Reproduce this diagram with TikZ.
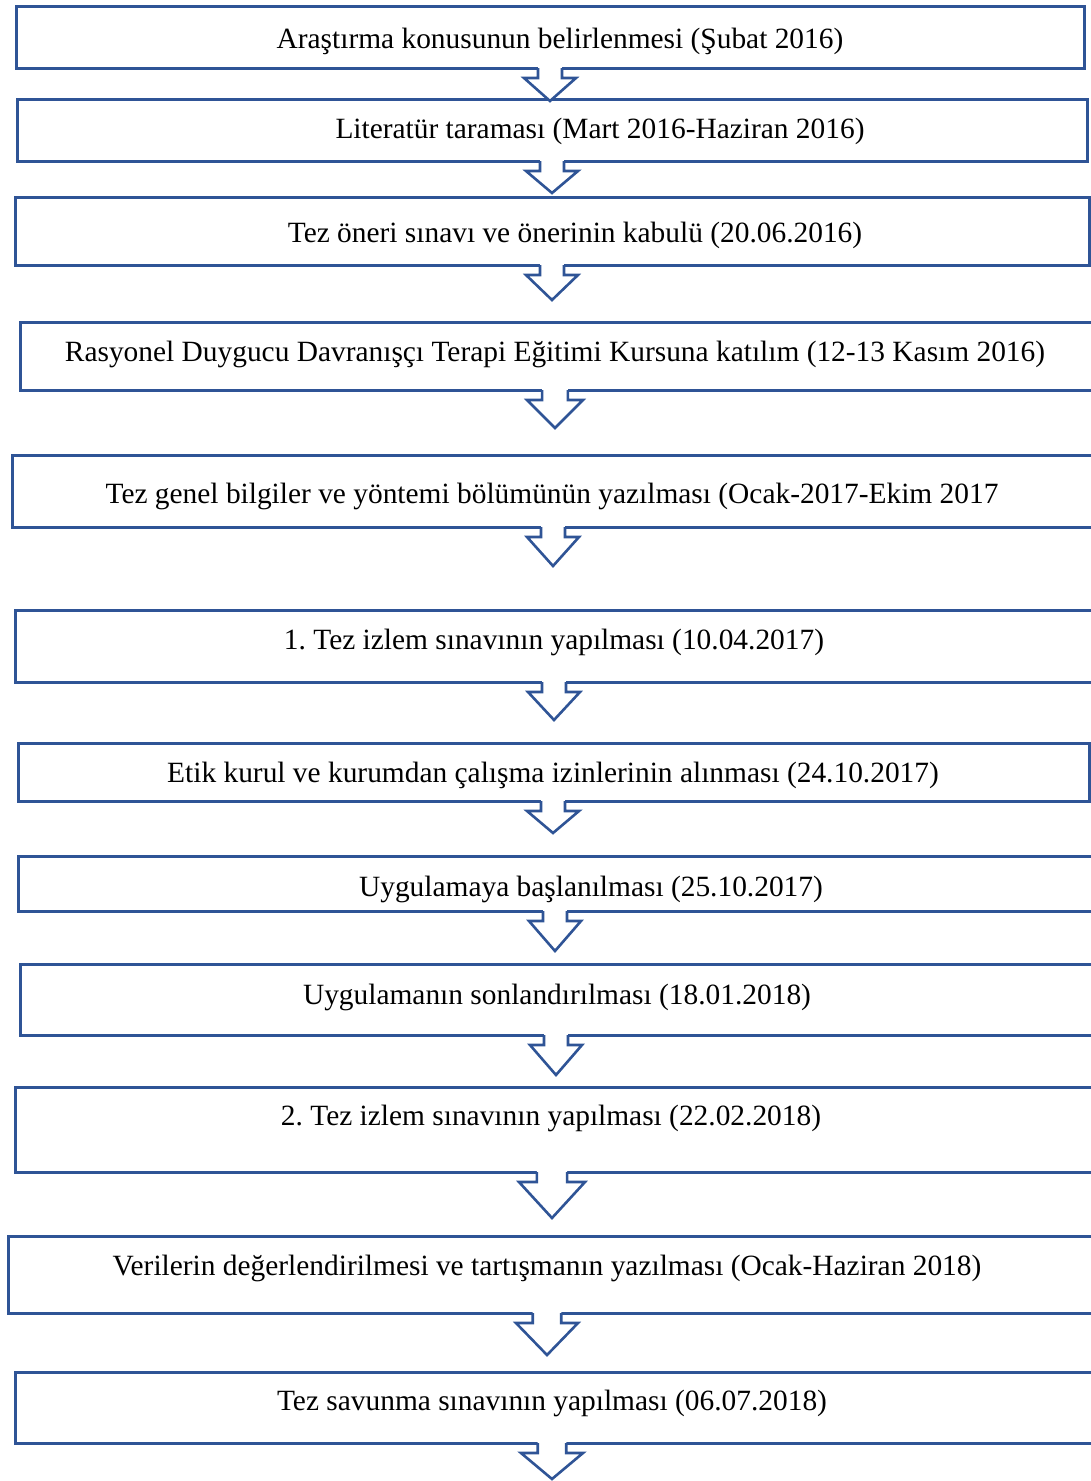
\documentclass[tikz,border=0pt]{standalone}
\usepackage{fontspec}
\setmainfont{Liberation Serif}
\usetikzlibrary{fit}
\definecolor{boxblue}{RGB}{47,84,150}
\tikzset{
  stagebox/.style={draw=boxblue, line width=3pt, inner sep=0pt, outer sep=0pt},
  stagetext/.style={anchor=base, inner sep=0pt, font=\fontsize{29.4}{33}\selectfont},
  blockarrow/.style={draw=boxblue, line width=2.6pt, line join=miter, fill=none},
}
% block arrow hanging below box #2 with its tip at coordinate #3;
% #1 = half width of the head (the stem is about half as wide)
\newcommand{\blockarrowdown}[3][26]{%
  \pgfmathsetmacro{\stemhw}{#1*0.46}%
  \fill[white] ([xshift=-\stemhw pt,yshift=2pt]#3 |- #2.south) -- ([xshift=-\stemhw pt,yshift=-10pt]#3 |- #2.south)
    -- ([xshift=-#1pt,yshift=-10pt]#3 |- #2.south) -- (#3)
    -- ([xshift=#1pt,yshift=-10pt]#3 |- #2.south) -- ([xshift=\stemhw pt,yshift=-10pt]#3 |- #2.south)
    -- ([xshift=\stemhw pt,yshift=2pt]#3 |- #2.south) -- cycle;
  \draw[blockarrow] ([xshift=-\stemhw pt]#3 |- #2.south) -- ([xshift=-\stemhw pt,yshift=-10pt]#3 |- #2.south)
    -- ([xshift=-#1pt,yshift=-10pt]#3 |- #2.south) -- (#3)
    -- ([xshift=#1pt,yshift=-10pt]#3 |- #2.south) -- ([xshift=\stemhw pt,yshift=-10pt]#3 |- #2.south)
    -- ([xshift=\stemhw pt]#3 |- #2.south);
}
\begin{document}
\begin{tikzpicture}[x=1pt, y=-1pt]
\useasboundingbox (0,0) rectangle (1091,1481);
\clip (0,0) rectangle (1091,1481);

% stage boxes
\node[stagebox, fit={(16,6) (1084,68)}] (b1) {};
\node[stagebox, fit={(17,99) (1087,161)}] (b2) {};
\node[stagebox, fit={(15,197) (1089,265)}] (b3) {};
\node[stagebox, fit={(20,322) (1097,390)}] (b4) {};
\node[stagebox, fit={(12,455) (1097,527)}] (b5) {};
\node[stagebox, fit={(15,610) (1097,682)}] (b6) {};
\node[stagebox, fit={(18,743) (1089,801)}] (b7) {};
\node[stagebox, fit={(18,856) (1097,911)}] (b8) {};
\node[stagebox, fit={(20,964) (1097,1035)}] (b9) {};
\node[stagebox, fit={(15,1087) (1097,1172)}] (b10) {};
\node[stagebox, fit={(8,1236) (1097,1313)}] (b11) {};
\node[stagebox, fit={(15,1372) (1097,1443)}] (b12) {};

% stage labels
\node[stagetext] (t1) at (560,48) {Araştırma konusunun belirlenmesi (Şubat 2016)};
\node[stagetext] (t2) at (600,138) {Literatür taraması (Mart 2016-Haziran 2016)};
\node[stagetext] (t3) at (575,242) {Tez öneri sınavı ve önerinin kabulü (20.06.2016)};
\node[stagetext] (t4) at (555,361) {Rasyonel Duygucu Davranışçı Terapi Eğitimi Kursuna katılım (12-13 Kasım 2016)};
\node[stagetext] (t5) at (552,503) {Tez genel bilgiler ve yöntemi bölümünün yazılması (Ocak-2017-Ekim 2017};
\node[stagetext] (t6) at (554,649) {1.\ Tez izlem sınavının yapılması (10.04.2017)};
\node[stagetext] (t7) at (553,782) {Etik kurul ve kurumdan çalışma izinlerinin alınması (24.10.2017)};
\node[stagetext] (t8) at (591,896) {Uygulamaya başlanılması (25.10.2017)};
\node[stagetext] (t9) at (557,1004) {Uygulamanın sonlandırılması (18.01.2018)};
\node[stagetext] (t10) at (551,1125) {2.\ Tez izlem sınavının yapılması (22.02.2018)};
\node[stagetext] (t11) at (547,1275) {Verilerin değerlendirilmesi ve tartışmanın yazılması (Ocak-Haziran 2018)};
\node[stagetext] (t12) at (552,1410) {Tez savunma sınavının yapılması (06.07.2018)};

% arrow tips
\coordinate (a1) at (550,101);
\coordinate (a2) at (552,193);
\coordinate (a3) at (552,300);
\coordinate (a4) at (555,428);
\coordinate (a5) at (553,566);
\coordinate (a6) at (554,720);
\coordinate (a7) at (553,833);
\coordinate (a8) at (555,951);
\coordinate (a9) at (556,1075);
\coordinate (a10) at (552,1218);
\coordinate (a11) at (547,1355);
\coordinate (a12) at (552,1479);

% block arrows between stages
\blockarrowdown{b1}{a1}
\blockarrowdown{b2}{a2}
\blockarrowdown{b3}{a3}
\blockarrowdown[28]{b4}{a4}
\blockarrowdown{b5}{a5}
\blockarrowdown{b6}{a6}
\blockarrowdown{b7}{a7}
\blockarrowdown{b8}{a8}
\blockarrowdown{b9}{a9}
\blockarrowdown[33]{b10}{a10}
\blockarrowdown[31]{b11}{a11}
\blockarrowdown[31]{b12}{a12}
\end{tikzpicture}
\end{document}
